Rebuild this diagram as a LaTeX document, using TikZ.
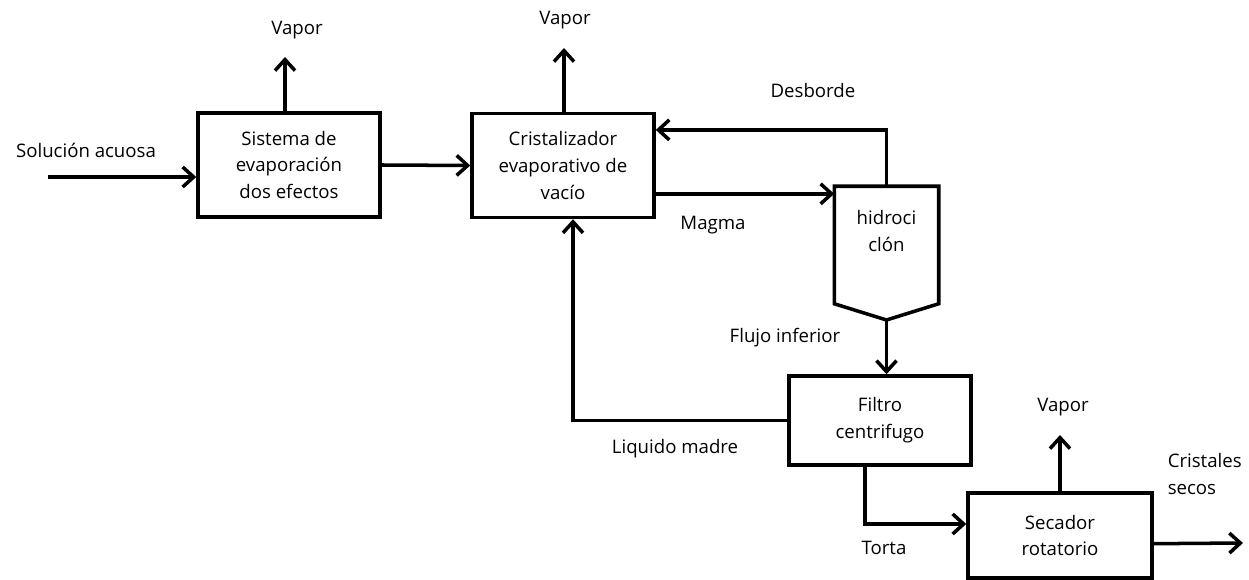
\documentclass[tikz,border=0pt]{standalone}
\usepackage{fontspec}
\setmainfont{Open Sans}
\usetikzlibrary{positioning}
\usetikzlibrary{arrows.meta}

\begin{document}
\begin{tikzpicture}[%
    x=0.02cm, y=-0.02cm,
    font=\fontsize{10.6}{15.2}\selectfont,
    line width=2pt,
    >={Straight Barb[length=0.22cm,width=0.4cm]},
box/.style={rectangle, align=center, draw=black, line width=2pt, minimum width=3.64cm, minimum height=2.08cm},
cyclone/.style={rectangle, draw=none, minimum width=2.02cm, minimum height=2.28cm},
etiqueta/.style={align=center, inner sep=0pt},
]
\useasboundingbox (0,0) rectangle (1249,580);

% Boxes
\node[box]      (sistema)       at (289,165)   {Sistema de\\evaporación\\dos efectos};
\node[box]      (cristalizador) at (563,165.5) {Cristalizador\\evaporativo de\\vacío};
\node[box, minimum height=1.78cm] (filtro)  at (880,420.5) {Filtro\\centrifugo};
\node[box, minimum width=3.68cm, minimum height=1.7cm] (secador) at (1060,535.5) {Secador\\rotatorio};

% hidrociclon
\node[cyclone]  (hidrociclon)   at (886.5,245) {};
\coordinate     (punta)         at (886.5,320);
\draw (hidrociclon.south west) -- (hidrociclon.north west) -- (hidrociclon.north east)
      -- (hidrociclon.south east) -- (punta) -- cycle;
\node[etiqueta] (hidrotexto) at ([yshift=0.28cm]hidrociclon.center) {hidroci\\clón};

% Labels
\node[etiqueta] (solucion)  at (86,150)  {Solución acuosa};
\node[etiqueta] (vapor1)    at (297,30)  {Vapor};
\node[etiqueta] (vapor2)    at (565,20)  {Vapor};
\node[etiqueta] (vapor3)    at (1063,407) {Vapor};
\node[etiqueta] (desborde)  at (813,91)  {Desborde};
\node[etiqueta] (magma)     at (713,225) {Magma};
\node[etiqueta] (flujo)     at (785,338) {Flujo inferior};
\node[etiqueta] (liquido)   at (675,449) {Liquido madre};
\node[etiqueta] (torta)     at (884,548) {Torta};
\node[etiqueta, align=left, anchor=west] (cristales) at (1166,474) {Cristales\\secos};

% Free ends
\coordinate (entrada) at (48,177);
\coordinate (vap1)    at (285,57);
\coordinate (vap2)    at (564,48);
\coordinate (vap3)    at (1060,435);
\coordinate (salida)  at (1243,543);

% Lines
\draw[->] (entrada) -- (entrada -| sistema.west);
\draw[->] (sistema.east) -- (cristalizador.west);
\draw[->] (vap1 |- sistema.north) -- (vap1);
\draw[->] (vap2 |- cristalizador.north) -- (vap2);
\draw[->] (cristalizador.-17) -- (cristalizador.-17 -| hidrociclon.west);
\draw[->] (hidrociclon.north) |- (cristalizador.21);
\draw[->] (punta) -- (punta |- filtro.north);
\draw[->] (filtro.west) -| ([xshift=0.2cm]cristalizador.south);
\draw[->] ([xshift=-0.3cm]filtro.south) |- (secador.173);
\draw[->] (vap3 |- secador.north) -- (vap3);
\draw[->] (secador.-5) -- (salida);

\end{tikzpicture}
\end{document}
